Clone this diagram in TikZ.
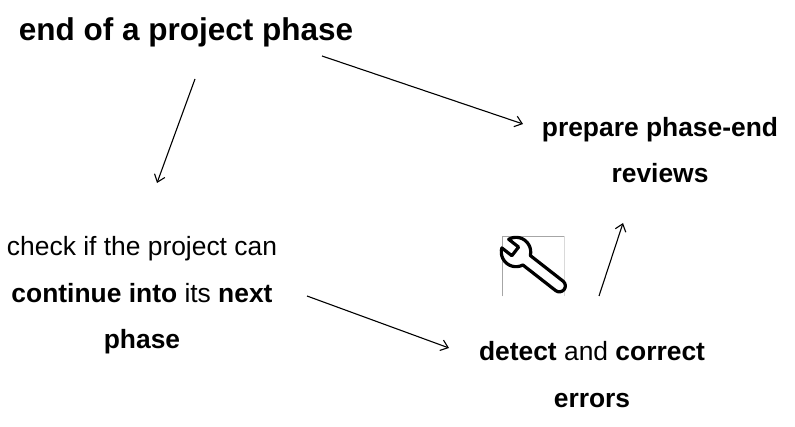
\documentclass[tikz,border=0pt]{standalone}
\usepackage{fontspec}
\setmainfont{Liberation Sans}
\usetikzlibrary{arrows.meta}
\begin{document}
\begin{tikzpicture}[x=1pt,y=-1pt,
  txt/.style={inner sep=0pt, anchor=base, align=center, font=\fontsize{26.4}{46.6}\selectfont},
  ttl/.style={inner sep=0pt, anchor=base, font=\fontsize{31.5}{38}\selectfont\bfseries},
  conn/.style={line width=1.1pt, -{Straight Barb[length=7pt,width=11pt]}},
  boxline/.style={line width=0.8pt, draw=gray!70},
  wrench/.style={line width=3.2pt, line join=round, draw=black, fill=white}]
\useasboundingbox (0,0) rectangle (795,427);
\node[ttl] (title) at (186,41) {end of a project phase};
\node[txt] (check) at (142,349) {check if the project can\\ \textbf{continue into} its \textbf{next}\\ \textbf{phase}};
\node[txt] (prep) at (660,183) {\textbf{prepare phase-end}\\ \textbf{reviews}};
\node[txt] (detect) at (592,407) {\textbf{detect} and \textbf{correct}\\ \textbf{errors}};
% icon box
\node[inner sep=0pt, minimum width=62pt, minimum height=60pt] (tool) at (533.3,266.3) {};
\draw[boxline] (tool.south west) -- (tool.north west) -- (tool.north east);
\draw[boxline, draw=gray!30] (tool.north east) -- (tool.south east);
\begin{scope}[shift={(516,252)}, x=1pt, y=1pt, rotate=-38]
  \draw[wrench] (13.4,6) -- (55,6) arc[start angle=90, end angle=-90, radius=6]
    -- (13.4,-6) arc[start angle=-24.1, end angle=-158, radius=14.7]
    -- (-1,-5.5) -- (-1,5.5) -- (-13.6,5.5) arc[start angle=158, end angle=24.1, radius=14.7] -- cycle;
\end{scope}
% connectors
\coordinate (a1s) at (322,56);
\coordinate (a1e) at (523,124);
\coordinate (a2s) at (195,79);
\coordinate (a2e) at (157,183);
\coordinate (a3s) at (307,296);
\coordinate (a3e) at (449,348);
\coordinate (a4s) at (599,296);
\coordinate (a4e) at (623,223);
\draw[conn] (a1s) -- (a1e);
\draw[conn] (a2s) -- (a2e);
\draw[conn] (a3s) -- (a3e);
\draw[conn] (a4s) -- (a4e);
\end{tikzpicture}
\end{document}
